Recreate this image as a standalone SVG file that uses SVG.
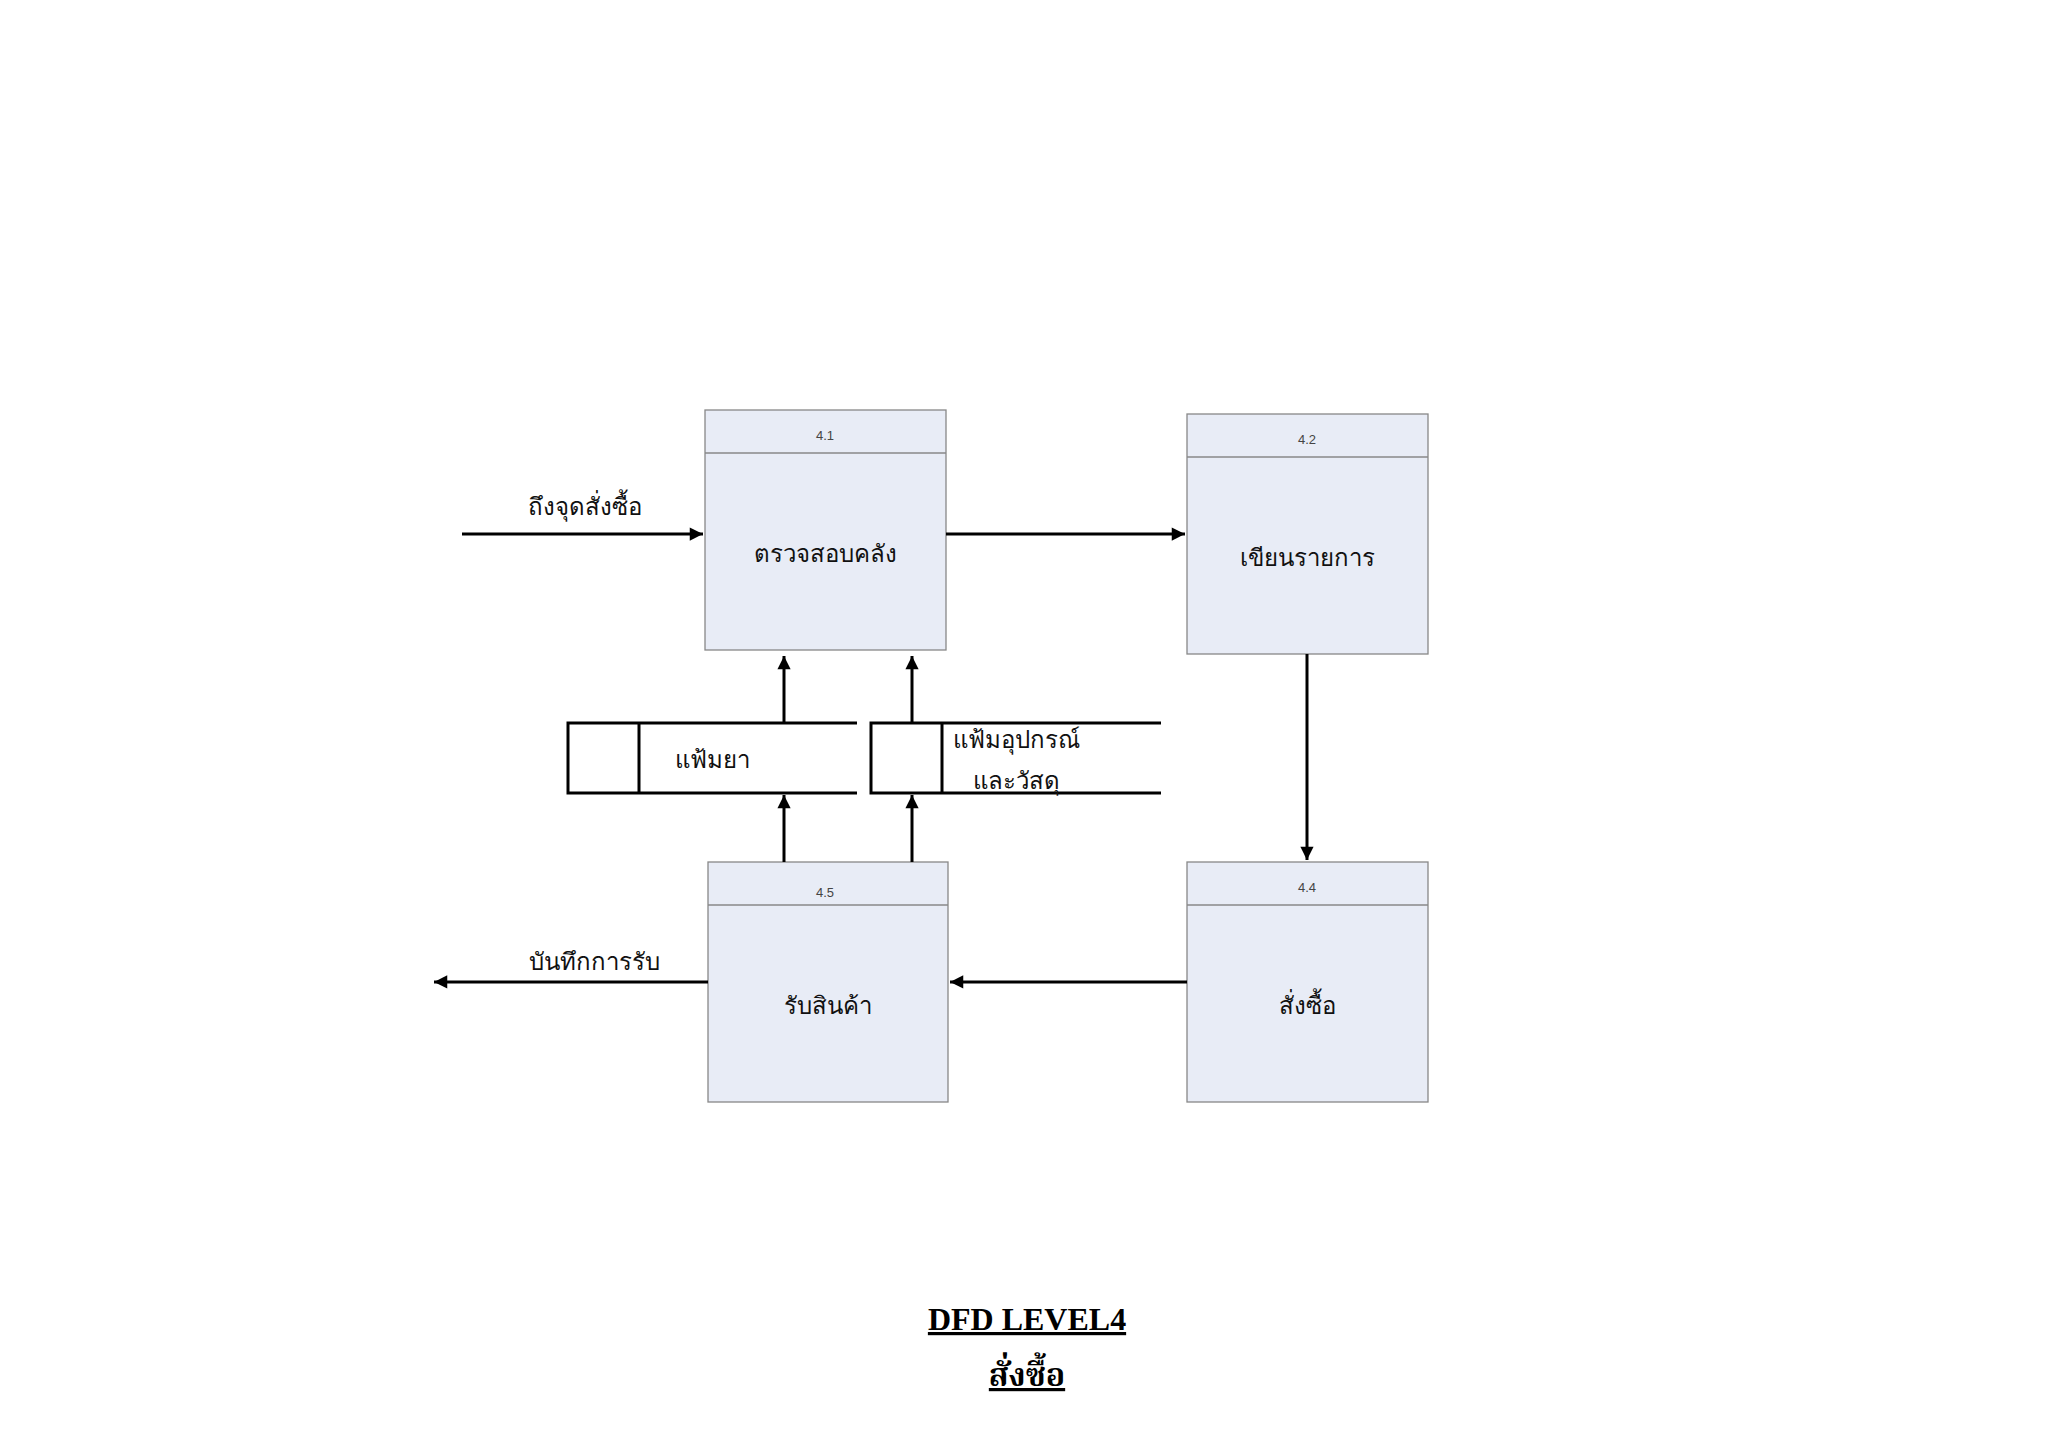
<svg xmlns="http://www.w3.org/2000/svg" width="2048" height="1447" viewBox="0 0 2048 1447">
<style>
.box{fill:#e8ecf6;stroke:#888;stroke-width:1.3}
.hd{stroke:#888;stroke-width:1.3}
.num{font-family:"Liberation Sans",sans-serif;font-size:13px;fill:#444;text-anchor:middle}
.lbl{font-family:"Noto Sans","Liberation Sans",sans-serif;font-size:24px;fill:#111;text-anchor:middle}
.ln{stroke:#000;stroke-width:3;fill:none}
.st{stroke:#000;stroke-width:3;fill:none}
.ttl{font-family:"Liberation Serif","Noto Serif Thai",serif;font-size:32px;font-weight:bold;text-anchor:middle;text-decoration:underline}
</style>
<defs><marker id="a" viewBox="0 0 10 10" refX="10" refY="5" markerWidth="6" markerHeight="6" orient="auto" markerUnits="userSpaceOnUse" style="overflow:visible"><path d="M0,0 L10,5 L0,10z" fill="#000" transform="scale(2.2)translate(-5.5,-2.7)"/></marker></defs>
<rect width="2048" height="1447" fill="#fff"/>
<g id="p41"><rect class="box" x="705" y="410" width="241" height="240"/><line class="hd" x1="705" y1="453" x2="946" y2="453"/><text class="num" x="825" y="440">4.1</text><text class="lbl" x="825" y="562">ตรวจสอบคลัง</text></g>
<g id="p42"><rect class="box" x="1187" y="414" width="241" height="240"/><line class="hd" x1="1187" y1="457" x2="1428" y2="457"/><text class="num" x="1307" y="444">4.2</text><text class="lbl" x="1307" y="566">เขียนรายการ</text></g>
<g id="p45"><rect class="box" x="708" y="862" width="240" height="240"/><line class="hd" x1="708" y1="905" x2="948" y2="905"/><text class="num" x="825" y="897">4.5</text><text class="lbl" x="828" y="1014">รับสินค้า</text></g>
<g id="p44"><rect class="box" x="1187" y="862" width="241" height="240"/><line class="hd" x1="1187" y1="905" x2="1428" y2="905"/><text class="num" x="1307" y="892">4.4</text><text class="lbl" x="1307" y="1014">สั่งซื้อ</text></g>
<g id="d1"><path class="st" d="M857,723 H568 V793 H857 M639,723 V793"/><text class="lbl" x="712" y="768">แฟ้มยา</text></g>
<g id="d2"><path class="st" d="M1161,723 H871 V793 H1161 M942,723 V793"/><text class="lbl" x="1016" y="748">แฟ้มอุปกรณ์</text><text class="lbl" x="1016" y="789">และวัสดุ</text></g>
<g id="connectors">
<line class="ln" x1="462" y1="534" x2="703" y2="534" marker-end="url(#a)"/>
<line class="ln" x1="946" y1="534" x2="1185" y2="534" marker-end="url(#a)"/>
<line class="ln" x1="1307" y1="654" x2="1307" y2="860" marker-end="url(#a)"/>
<line class="ln" x1="1187" y1="982" x2="950" y2="982" marker-end="url(#a)"/>
<line class="ln" x1="708" y1="982" x2="434" y2="982" marker-end="url(#a)"/>
<line class="ln" x1="784" y1="723" x2="784" y2="656" marker-end="url(#a)"/>
<line class="ln" x1="912" y1="723" x2="912" y2="656" marker-end="url(#a)"/>
<line class="ln" x1="784" y1="862" x2="784" y2="795" marker-end="url(#a)"/>
<line class="ln" x1="912" y1="862" x2="912" y2="795" marker-end="url(#a)"/>
<text class="lbl" x="585" y="515">ถึงจุดสั่งซื้อ</text>
<text class="lbl" x="594" y="970">บันทึกการรับ</text>
</g>
<text class="ttl" x="1027" y="1330">DFD LEVEL4</text>
<text class="ttl" x="1027" y="1386">สั่งซื้อ</text>
</svg>
